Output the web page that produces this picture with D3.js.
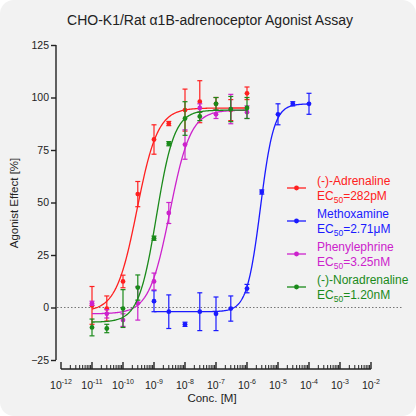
<!DOCTYPE html>
<html><head><meta charset="utf-8">
<script src="https://cdn.jsdelivr.net/npm/d3@7"></script>
<style>body{margin:0;background:#fff}</style>
</head><body>
<script>
// Concentrations (M)
const concA = [1e-11, 3e-11, 1e-10, 3e-10, 1e-9, 3e-9, 1e-8, 3e-8, 1e-7, 3e-7, 1e-6];
const concM = [1e-9, 3e-9, 1e-8, 3e-8, 1e-7, 3e-7, 1e-6, 3e-6, 1e-5, 3e-5, 1e-4];

const adrenaline = [1, -0.5, 12.4, 54, 80, 87.6, 94, 98, 97, 94, 102];
const adrenalineErr = [9, 6, 3, 6, 7, 1, 10, 10, 3, 5, 3];
const noradrenaline = [-9.5, -10, -0.5, 9.5, 33, 78, 90, 91, 97, 94.5, 95];
const noradrenalineErr = [4, 2, 9, 6, 1, 1, 8, 2, 3, 6, 5];
const phenylephrine = [2, -3, -6, 2, 12.4, 45, 77.6, 95, 92, 94.5, 93];
const phenylephrineErr = [1, 2, 3, 8, 4, 5, 7, 2, 2, 7, 3];
const methoxamine = [3, -2, -8, -2, -3, -0.5, 9, 55, 92, 97, 97];
const methoxamineErr = [5, 8, 1, 9, 8, 6, 2, 1, 5, 1, 5];

const xTicks = [-12, -11, -10, -9, -8, -7, -6, -5, -4, -3, -2];
const yTicks = [-25, 0, 25, 50, 75, 100, 125];

// series with 4PL fit parameters
const series = [
  {name: "(-)-Adrenaline", ec: "282pM", color: "#ff2020", x: concA, y: adrenaline, e: adrenalineErr, fit: {bot: -2, top: 95, ec50: 2.82e-10, h: 1.3}},
  {name: "Methoxamine", ec: "2.71μM", color: "#1a1aff", x: concM, y: methoxamine, e: methoxamineErr, fit: {bot: -2, top: 97, ec50: 2.71e-6, h: 2}},
  {name: "Phenylephrine", ec: "3.25nM", color: "#cc22cc", x: concA, y: phenylephrine, e: phenylephrineErr, fit: {bot: -3, top: 94, ec50: 3.25e-9, h: 1.3}},
  {name: "(-)-Noradrenaline", ec: "1.20nM", color: "#1a8a1a", x: concA, y: noradrenaline, e: noradrenalineErr, fit: {bot: -7, top: 94, ec50: 1.2e-9, h: 1.5}}
];

const W = 416, H = 416;
const svg = d3.select("body").append("svg").attr("width", W).attr("height", H)
  .attr("font-family", "Liberation Sans, Arial, sans-serif");

svg.append("rect").attr("width", W).attr("height", H).attr("rx", 14).attr("fill", "#f2f2f2");

const x = d3.scaleLog().domain([1e-12, 1e-2]).range([61, 371]);
const y = d3.scaleLinear().domain([-25, 125]).range([360, 45]);

// title
svg.append("text").attr("x", 210).attr("y", 25).attr("text-anchor", "middle")
  .attr("font-size", 14).attr("fill", "#222").text("CHO-K1/Rat α1B-adrenoceptor Agonist Assay");

// y axis
const yAxis = svg.append("g").attr("transform", "translate(56,0)")
  .call(d3.axisLeft(y).tickValues(yTicks).tickSize(5).tickPadding(2));
yAxis.selectAll("path,line").attr("stroke", "#222").attr("stroke-width", 1.4);
yAxis.selectAll("text").attr("font-size", 10.5).attr("fill", "#222");
yAxis.select(".domain").attr("d", `M0,${y(-25)}V${y(125)}`);

svg.append("text").attr("transform", "translate(18,203) rotate(-90)").attr("text-anchor", "middle")
  .attr("font-size", 11.5).attr("fill", "#222").text("Agonist Effect [%]");

// x axis with minor ticks upward
const xg = svg.append("g").attr("transform", "translate(0,369)");
xg.append("line").attr("x1", x(1e-12)).attr("x2", x(1e-2)).attr("stroke", "#222").attr("stroke-width", 1.4);
xTicks.forEach((p, i) => {
  xg.append("line").attr("x1", x(10 ** p)).attr("x2", x(10 ** p)).attr("y1", 0).attr("y2", -7)
    .attr("stroke", "#222").attr("stroke-width", 1.4);
  if (i < xTicks.length - 1) {
    for (let m = 2; m < 10; m++) {
      const v = m * 10 ** p;
      xg.append("line").attr("x1", x(v)).attr("x2", x(v)).attr("y1", 0).attr("y2", -4)
        .attr("stroke", "#222").attr("stroke-width", 1);
    }
  }
  const t = xg.append("text").attr("x", x(10 ** p)).attr("y", 20).attr("text-anchor", "middle")
    .attr("font-size", 10.5).attr("fill", "#222");
  t.append("tspan").text("10");
  t.append("tspan").attr("font-size", 7).attr("dy", -5).text(p);
});
svg.append("text").attr("x", 212).attr("y", 402).attr("text-anchor", "middle")
  .attr("font-size", 11.5).attr("fill", "#222").text("Conc. [M]");

// zero line
svg.append("line").attr("x1", 57).attr("x2", 402).attr("y1", y(0)).attr("y2", y(0))
  .attr("stroke", "#555").attr("stroke-width", 0.8).attr("stroke-dasharray", "1.5,2");

const fpl = (f, c) => f.bot + (f.top - f.bot) / (1 + Math.pow(f.ec50 / c, f.h));
const line = d3.line().x(d => x(d[0])).y(d => y(d[1]));

series.forEach(s => {
  const g = svg.append("g");
  const lo = Math.log10(s.x[0]), hi = Math.log10(s.x[s.x.length - 1]);
  const pts = d3.range(0, 201).map(i => { const c = 10 ** (lo + (hi - lo) * i / 200); return [c, fpl(s.fit, c)]; });
  g.append("path").attr("d", line(pts)).attr("fill", "none").attr("stroke", s.color).attr("stroke-width", 1.3);
  s.x.forEach((c, i) => {
    const cx = x(c), v = s.y[i], e = s.e[i];
    g.append("line").attr("x1", cx).attr("x2", cx).attr("y1", y(v - e)).attr("y2", y(v + e)).attr("stroke", s.color).attr("stroke-width", 1.2);
    [v - e, v + e].forEach(w => g.append("line").attr("x1", cx - 2.5).attr("x2", cx + 2.5).attr("y1", y(w)).attr("y2", y(w)).attr("stroke", s.color).attr("stroke-width", 1.2));
    g.append("circle").attr("cx", cx).attr("cy", y(v)).attr("r", 2.4).attr("fill", s.color);
  });
});

// legend
series.forEach((s, i) => {
  const ly = 188 + i * 33;
  svg.append("line").attr("x1", 287).attr("x2", 306).attr("y1", ly).attr("y2", ly).attr("stroke", s.color).attr("stroke-width", 1.3);
  svg.append("circle").attr("cx", 296.5).attr("cy", ly).attr("r", 2.4).attr("fill", s.color);
  svg.append("text").attr("x", 317).attr("y", ly - 3).attr("font-size", 12).attr("fill", s.color).text(s.name);
  const t = svg.append("text").attr("x", 317).attr("y", ly + 12).attr("font-size", 12).attr("fill", s.color);
  t.append("tspan").text("EC");
  t.append("tspan").attr("font-size", 8.5).attr("dy", 3).text("50");
  t.append("tspan").attr("dy", -3).text("=" + s.ec);
});
</script>
</body></html>
